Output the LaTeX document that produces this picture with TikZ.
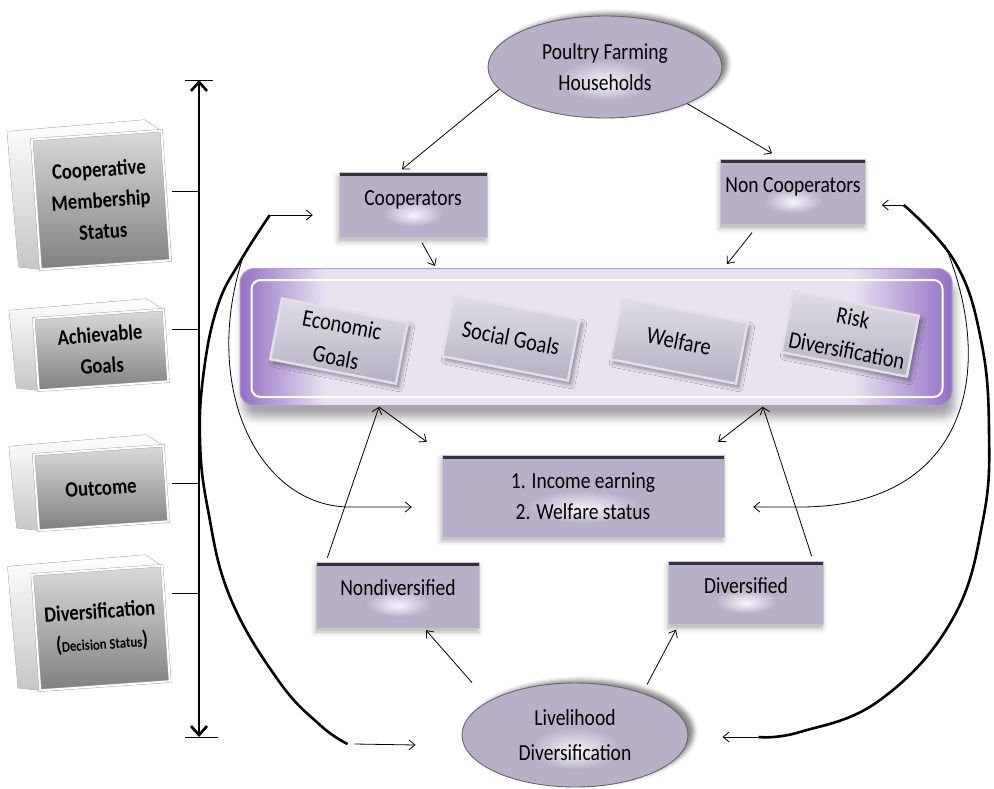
\documentclass[tikz,border=0pt]{standalone}
\usepackage{fontspec}
\setmainfont{Carlito}[FakeStretch=0.85]
\usetikzlibrary{arrows.meta,positioning,shapes.geometric,shadows.blur}

\definecolor{boxlav}{RGB}{184,176,200}
\definecolor{boxglow}{RGB}{247,245,251}
\definecolor{edgedark}{RGB}{50,50,58}
\definecolor{bandpurple}{RGB}{148,112,196}
\definecolor{bandlight}{RGB}{232,226,241}
\definecolor{tilelav}{RGB}{198,192,210}
\definecolor{facetop}{RGB}{218,218,218}
\definecolor{facebot}{RGB}{128,128,128}

\pgfdeclareradialshading{glow}{\pgfpoint{0bp}{-8bp}}{color(0bp)=(boxglow); color(10bp)=(boxlav); color(50bp)=(boxlav)}
\pgfdeclarehorizontalshading{bandshade}{100bp}{color(0bp)=(bandpurple); color(25bp)=(bandpurple); color(31bp)=(bandlight); color(68bp)=(bandlight); color(75bp)=(bandpurple); color(100bp)=(bandpurple)}

\begin{document}
\begin{tikzpicture}[x=1pt, y=-1pt,
  font=\fontsize{23}{31}\selectfont,
  box/.style={rectangle, shading=glow, draw=gray!45, minimum width=148pt, minimum height=65pt,
    path picture={\draw[edgedark, line width=7pt] (path picture bounding box.north west) -- (path picture bounding box.north east);},
    blur shadow={shadow xshift=-1pt, shadow yshift=-4pt, shadow opacity=30, shadow blur radius=5pt}},
  lift/.style={text depth=14pt},
  blob/.style={ellipse, shading=glow, draw=edgedark!75, line width=0.9pt, align=center,
    blur shadow={shadow xshift=6pt, shadow yshift=3pt, shadow opacity=45, shadow blur radius=4pt}},
  band/.style={rectangle, rounded corners=14pt, shading=bandshade, draw=bandpurple!70, line width=1pt,
    minimum width=712pt, minimum height=137pt,
    blur shadow={shadow xshift=3pt, shadow yshift=-12pt, shadow opacity=35, shadow blur radius=8pt}},
  tile/.style={rectangle, rotate=-11, top color=tilelav!55!white, bottom color=tilelav!92!black,
    draw=white!50!tilelav, line width=2.5pt, minimum width=128pt, minimum height=62pt, inner sep=2pt,
    align=center, font=\fontsize{24}{33}\selectfont,
    blur shadow={shadow xshift=3pt, shadow yshift=-4pt, shadow opacity=40, shadow blur radius=4pt}},
  face/.style={rectangle, top color=facetop, bottom color=facebot, draw=gray!75, double=white,
    double distance=2pt, minimum width=130pt, align=center, font=\fontsize{22}{31}\selectfont\bfseries},
  side/.style={top color=white, bottom color=gray!45, draw=gray!40, line width=0.5pt},
  arr/.style={-{Straight Barb[length=6pt,width=10pt]}, line width=0.8pt},
  bigarr/.style={line width=2.6pt}
]
  \useasboundingbox (0,0) rectangle (994,789);

  % Stage boxes on the left
  \foreach \nm/\cy/\hh/\lbl in {cms/200/130/{Cooperative\\Membership\\Status},
      ach/350/72/{Achievable\\Goals}, outc/488/76/{Outcome},
      dec/628/116/{Diversification\\{(}{\fontsize{15}{20}\selectfont Decision Status}{)}}}
  {
    \begin{scope}[rotate around={4:(101,\cy)}, transform shape]
      \fill[side] (12,{\cy-\hh/2-10}) -- (150,{\cy-\hh/2-12}) -- (166,{\cy-\hh/2})
        -- (166,{\cy+\hh/2}) -- (36,{\cy+\hh/2}) -- (14,{\cy+\hh/2-4}) -- cycle;
      \node[face, minimum height=\hh pt] (\nm) at (101,\cy) {\lbl};
    \end{scope}
  }

  % Axis with ticks
  \coordinate (axtop) at (199,80);
  \coordinate (axbot) at (199,737);
  \draw[bigarr, {Straight Barb[length=9pt,width=16pt]}-{Straight Barb[length=9pt,width=16pt]}] (axtop) -- (axbot);
  \draw[line width=0.8pt] (185,80) -- (213,80);
  \draw[line width=0.8pt] (185,737) -- (218,737);
  \foreach \ty in {191,329,483,593}
    \draw[line width=0.8pt] (172,\ty) -- (199,\ty);

  % Goals band
  \node[band] (band) at (596,337) {};
  \draw[white, line width=2pt, rounded corners=9pt] ([xshift=12pt,yshift=-12pt]band.north west)
    rectangle ([xshift=-10pt,yshift=9pt]band.south east);
  \node[tile] (econ) at (339,341) {Economic\\Goals};
  \node[tile] (social) at (511,338) {Social Goals};
  \node[tile] (welf) at (679,341) {Welfare};
  \node[tile] (risk) at (850,334) {Risk\\Diversification};

  % Main nodes
  \node[blob, minimum width=234pt, minimum height=102pt] (poultry) at (605,67) {Poultry Farming\\Households};
  \node[box, lift] (coop) at (413,205) {Cooperators};
  \node[box, lift, minimum width=145pt] (noncoop) at (793,192) {Non Cooperators};
  \node[box, minimum width=282pt, minimum height=82pt, align=center] (income) at (583,496) {1. Income earning\\2. Welfare status};
  \node[box, lift, minimum width=163pt, minimum height=66pt] (nondiv) at (398,595) {Nondiversified};
  \node[box, lift, minimum width=155pt, minimum height=63pt] (div) at (746,593) {Diversified};
  \node[blob, minimum width=226pt, minimum height=104pt, font=\fontsize{23}{35}\selectfont] (live) at (575,735) {Livelihood\\Diversification};

  % Contact points
  \coordinate (p2c) at (poultry.192);
  \coordinate (c2p) at ([xshift=-11pt,yshift=3pt]coop.north);
  \coordinate (p2n) at (poultry.336);
  \coordinate (n2p) at ([xshift=-21pt,yshift=6pt]noncoop.north);
  \coordinate (c2b) at ([xshift=9pt,yshift=-5pt]coop.south);
  \coordinate (b2c) at (435,266);
  \coordinate (n2b) at ([xshift=-41pt,yshift=-8pt]noncoop.south);
  \coordinate (b2n) at (727,264);
  \coordinate (bandL) at (379,407);
  \coordinate (bandR) at (763,407);
  \coordinate (incL) at ([xshift=-15pt,yshift=13pt]income.north west);
  \coordinate (incR) at ([xshift=-6pt,yshift=13pt]income.north east);
  \coordinate (nd2b) at ([xshift=11pt,yshift=4pt]nondiv.north west);
  \coordinate (d2b) at ([xshift=-12pt,yshift=5pt]div.north east);
  \coordinate (l2nd) at ([xshift=-103pt]live.north);
  \coordinate (nd2l) at ([xshift=28pt,yshift=-2pt]nondiv.south);
  \coordinate (l2d) at ([xshift=72pt,yshift=-2pt]live.north);
  \coordinate (d2l) at ([xshift=-70pt,yshift=-5pt]div.south);

  \foreach \from/\to in {p2c/c2p, p2n/n2p, c2b/b2c, n2b/b2n, bandL/incL, bandR/incR,
      nd2b/bandL, d2b/bandR, l2nd/nd2l, l2d/d2l}
    \draw[arr] (\from) -- (\to);

  % Thick side brackets
  \coordinate (ltop) at ([xshift=-69pt,yshift=-10pt]coop.west);
  \coordinate (lbot) at ([xshift=-114pt,yshift=-9pt]live.west);
  \coordinate (rtop) at ([xshift=38pt,yshift=-13pt]noncoop.east);
  \coordinate (rbot) at ([xshift=70pt,yshift=-2pt]live.east);
  \draw[bigarr] plot[smooth, tension=0.7] coordinates {(ltop) (241,260) (218,305) (204,370)
    (200,440) (208,510) (230,597) (278,680) (320,725) (lbot)};
  \draw[bigarr] plot[smooth, tension=0.7] coordinates {(rtop) (955,262) (981,340) (989,430)
    (983,520) (952,620) (880,700) (800,732) (rbot)};
  \draw[arr] (ltop) -- ([xshift=-26pt,yshift=-10pt]coop.west);
  \draw[arr] ([xshift=7pt]lbot) -- ([xshift=-46pt,yshift=-10pt]live.west);
  \draw[arr] (rtop) -- ([xshift=16pt,yshift=-13pt]noncoop.east);
  \draw[arr] (rbot) -- ([xshift=34pt,yshift=-2pt]live.east);

  % Thin loops to the outcome
  \coordinate (lsplit) at (243,257);
  \coordinate (rsplit) at (945,245);
  \draw[arr] (lsplit) .. controls (200,390) and (260,507) .. (350,507)
    -- ([xshift=-30pt,yshift=-11pt]income.west);
  \draw[arr] (rsplit) .. controls (1000,380) and (960,507) .. (800,507)
    -- ([xshift=29pt,yshift=-11pt]income.east);
\end{tikzpicture}
\end{document}
